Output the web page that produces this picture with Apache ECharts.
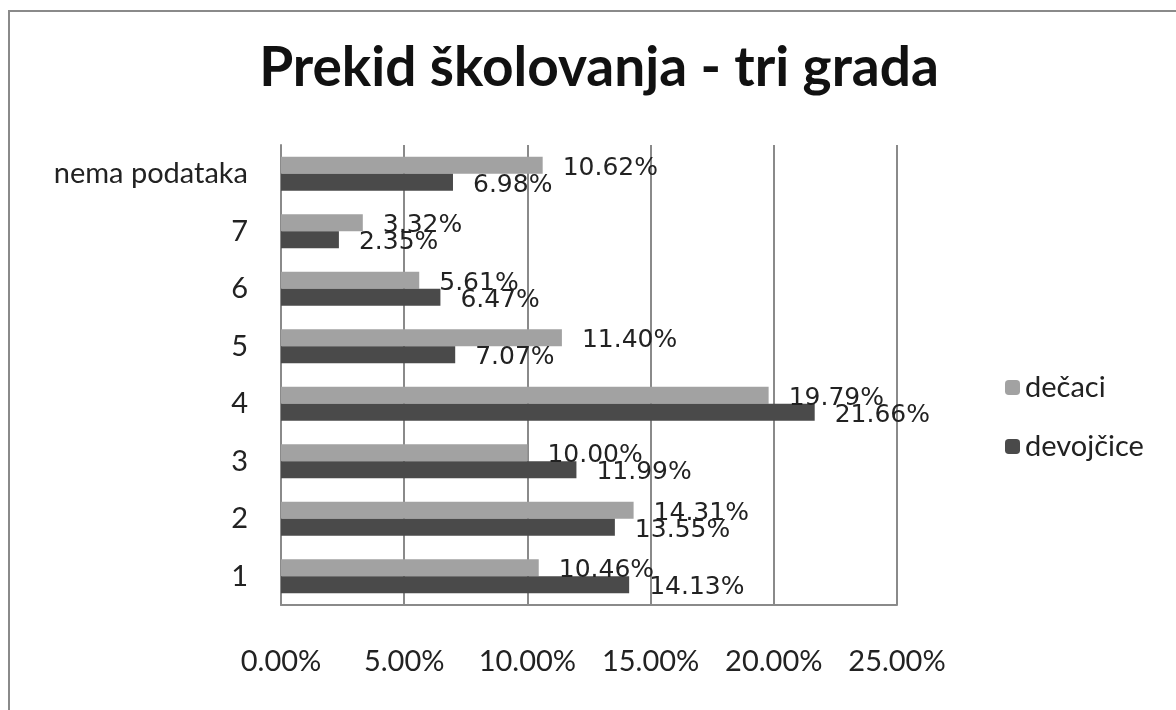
<!DOCTYPE html>
<html>
<head>
<meta charset="utf-8">
<script src="https://cdn.jsdelivr.net/npm/echarts@6/dist/echarts.min.js"></script>
<style>
  html, body { margin: 0; padding: 0; background: #fff; }
  #chart { width: 1176px; height: 710px; }
</style>
</head>
<body>
<div id="chart"></div>
<script>
var categories = ['1', '2', '3', '4', '5', '6', '7', 'nema podataka'];
var decaci = [10.46, 14.31, 10.00, 19.79, 11.40, 5.61, 3.32, 10.62];
var devojcice = [14.13, 13.55, 11.99, 21.66, 7.07, 6.47, 2.35, 6.98];
var xTicks = [0, 5, 10, 15, 20, 25];

var chart = echarts.init(document.getElementById('chart'));

var labelStyle = {
  show: true,
  position: 'right',
  distance: 20,
  offset: [0, 3],
  fontFamily: 'DejaVu Sans',
  fontSize: 25,
  color: '#222',
  formatter: function (p) { return p.value.toFixed(2) + '%'; }
};

var option = {
  backgroundColor: '#fff',
  animation: false,
  textStyle: { fontFamily: 'Lato' },
  title: {
    text: 'Prekid školovanja - tri grada',
    left: 594,
    textAlign: 'center',
    top: 36,
    textStyle: { fontFamily: 'Lato', fontWeight: 'bold', fontSize: 55, color: '#111' }
  },
  graphic: [{
    type: 'rect',
    shape: { x: 9, y: 11, width: 1180, height: 710 },
    style: { fill: 'none', stroke: '#8a8a8a', lineWidth: 2 },
    silent: true
  }],
  legend: {
    orient: 'vertical',
    left: 1000,
    top: 368,
    itemWidth: 15,
    itemHeight: 15,
    itemGap: 30,
    data: ['dečaci', 'devojčice'],
    textStyle: { fontFamily: 'Lato', fontSize: 29, color: '#222' }
  },
  grid: { left: 281, right: 279, top: 145, bottom: 105 },
  xAxis: {
    type: 'value',
    min: xTicks[0],
    max: xTicks[xTicks.length - 1],
    interval: 5,
    axisLine: { show: true, lineStyle: { color: '#8a8a8a', width: 2 } },
    axisTick: { show: false },
    splitLine: { show: true, lineStyle: { color: '#8a8a8a', width: 2 } },
    axisLabel: {
      margin: 42,
      fontFamily: 'Lato',
      fontSize: 29,
      color: '#222',
      formatter: function (v) { return v.toFixed(2) + '%'; }
    }
  },
  yAxis: {
    type: 'category',
    data: categories,
    axisLine: { show: true, lineStyle: { color: '#8a8a8a', width: 2 } },
    axisTick: { show: false },
    axisLabel: { margin: 33, fontFamily: 'Lato', fontSize: 29, color: '#222' }
  },
  series: [
    {
      name: 'dečaci',
      type: 'bar',
      data: decaci,
      barWidth: 17,
      barGap: '0%',
      itemStyle: { color: '#a2a2a2' },
      label: labelStyle
    },
    {
      name: 'devojčice',
      type: 'bar',
      data: devojcice,
      barWidth: 17,
      barGap: '0%',
      itemStyle: { color: '#4a4a4a' },
      label: labelStyle
    }
  ]
};

chart.setOption(option);
</script>
</body>
</html>
